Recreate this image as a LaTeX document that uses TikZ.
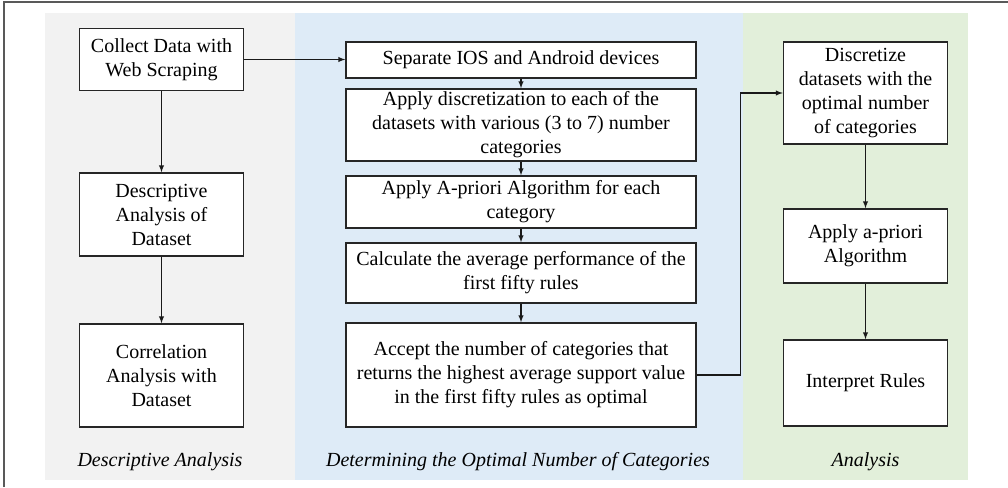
\documentclass[tikz,border=0pt]{standalone}
\usepackage{fontspec}
\setmainfont{Liberation Serif}
\usepackage{xcolor}
\usepackage{tikz}
\usetikzlibrary{shapes,arrows,positioning,calc}

\definecolor{panelgray}{RGB}{242,242,242}
\definecolor{panelblue}{RGB}{222,235,247}
\definecolor{panelgreen}{RGB}{226,239,218}

\begin{document}
\begin{tikzpicture}[
    x=1pt, y=-1pt,
    box/.style={rectangle, draw=black!85, line width=1.5pt, fill=white, align=center, inner sep=2pt, font=\fontsize{20}{24}\selectfont},
    wbox/.style={box, minimum width=350pt},
    nbox/.style={box, minimum width=164pt},
    lbl/.style={font=\fontsize{20}{24}\selectfont\itshape},
    conn/.style={-latex, line width=1.4pt, black!90}
]
    \useasboundingbox (0,0) rectangle (1008,487);

    % Panels
    \fill[panelgray]  (45,13) rectangle (295,480);
    \fill[panelblue]  (295,13) rectangle (743,480);
    \fill[panelgreen] (743,13) rectangle (968,480);

    % Frame
    \draw[black!65, line width=1.5pt] (4,487) -- (4,2) -- (1008,2);

    % Descriptive analysis
    \node[nbox, minimum height=62pt] (collect) at (161.5,59.5) {Collect Data with\\Web Scraping};
    \node[nbox, minimum height=83pt] (desc) at (161.5,214.5) {Descriptive\\Analysis of\\Dataset};
    \node[nbox, minimum height=103pt] (corr) at (161.5,375.5) {Correlation\\Analysis with\\Dataset};

    % Optimal number of categories
    \node[wbox, minimum height=36pt] (sep) at (521,60) {Separate IOS and Android devices};
    \node[wbox, minimum height=72pt] (disc) at (521,125) {Apply discretization to each of the\\datasets with various (3 to 7) number\\categories};
    \node[wbox, minimum height=52pt] (apri) at (521,202) {Apply A-priori Algorithm for each\\category};
    \node[wbox, minimum height=60pt] (calc) at (521,273) {Calculate the average performance of the\\first fifty rules};
    \node[wbox, minimum height=104pt] (acc) at (521,375) {Accept the number of categories that\\returns the highest average support value\\in the first fifty rules as optimal};

    % Analysis
    \node[nbox, minimum height=102pt] (dz) at (865.5,93) {Discretize\\datasets with the\\optimal number\\of categories};
    \node[nbox, minimum height=74pt] (apr2) at (865.5,246) {Apply a-priori\\Algorithm};
    \node[nbox, minimum height=86pt] (interp) at (865.5,383) {Interpret Rules};

    % Panel titles
    \node[lbl] (t1) at (160,462) {Descriptive Analysis};
    \node[lbl] (t2) at (518,462) {Determining the Optimal Number of Categories};
    \node[lbl] (t3) at (865.5,462) {Analysis};

    % Connections
    \draw[conn] (collect) -- (desc);
    \draw[conn] (desc) -- (corr);
    \draw[conn] (collect.east) -- (collect.east -| sep.west);

    \draw[conn] (sep) -- (disc);
    \draw[conn] (disc) -- (apri);
    \draw[conn] (apri) -- (calc);
    \draw[conn] (calc) -- (acc);

    \draw[conn] (acc.east) -- ++(44,0) |- (dz.west);

    \draw[conn] (dz) -- (apr2);
    \draw[conn] (apr2) -- (interp);
\end{tikzpicture}
\end{document}
